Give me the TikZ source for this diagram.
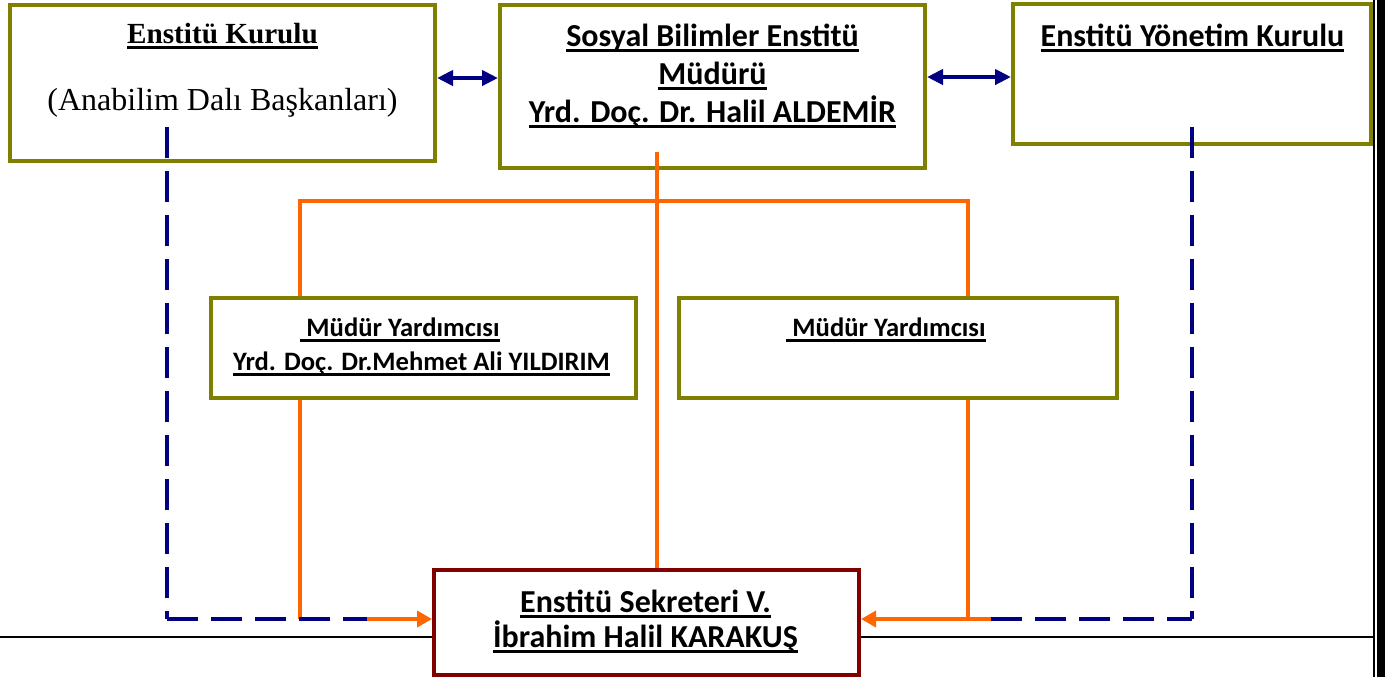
\documentclass[tikz,border=0pt]{standalone}
\usepackage{fontspec}
\setmainfont{Carlito}
\newfontfamily\serifyazi{Liberation Serif}
\usetikzlibrary{positioning}
\usetikzlibrary{arrows.meta}
\newsavebox{\altkutu}
\newcommand{\altcizgili}[1]{\sbox{\altkutu}{#1}\rlap{\rule[-3pt]{\wd\altkutu}{1.6pt}}\usebox{\altkutu}}
\definecolor{zeytin}{HTML}{808000}
\definecolor{lacivert}{HTML}{000080}
\definecolor{turuncu}{HTML}{FF6600}
\definecolor{bordo}{HTML}{800000}
\tikzstyle{birim} = [rectangle, draw=zeytin, line width=2pt, inner sep=0pt]
\tikzstyle{sekreterlik} = [rectangle, draw=bordo, line width=2pt, fill=white, inner sep=0pt]
\tikzstyle{yazi} = [anchor=base, align=center, inner sep=0pt]
\tikzstyle{cift} = [draw=lacivert, line width=2pt,
    {Triangle[length=8pt,width=7.5pt]}-{Triangle[length=8pt,width=7.5pt]}]
\tikzstyle{hat} = [draw=turuncu, line width=1.8pt]
\tikzstyle{hatok} = [hat, -{Triangle[length=7.5pt,width=8pt]}]
\tikzstyle{kesik} = [draw=lacivert, line width=1.7pt, dash pattern=on 15.5pt off 6.5pt]
\tikzstyle{cizgi} = [draw=black, line width=1pt]

\begin{document}
\begin{tikzpicture}[x=0.5pt, y=-0.5pt]
    \useasboundingbox (0,0) rectangle (1385,677);
    \node [birim, minimum width=212.5pt, minimum height=78pt] (kurul) at (222.5,83) {};
    \node [birim, minimum width=212.5pt, minimum height=81.5pt] (mudur) at (712.5,86.5) {};
    \node [birim, minimum width=179pt, minimum height=70pt] (yonetim) at (1192,74) {};
    \node [birim, minimum width=212.5pt, minimum height=50pt] (yardA) at (423.5,348) {};
    \node [birim, minimum width=219pt, minimum height=50pt] (yardB) at (898,348) {};
    \node [sekreterlik, minimum width=212.5pt, minimum height=52.5pt] (sekreter) at (646.5,622.5) {};
    % texts (base = last line)
    \node [yazi, font=\serifyazi\bfseries\fontsize{14.6}{17}\selectfont] (kurulBaslik) at (222.5,43) {\altcizgili{Enstitü Kurulu}};
    \node [yazi, font=\serifyazi\fontsize{16}{19}\selectfont] (kurulAciklama) at (222.5,110) {(Anabilim Dalı Başkanları)};
    \node [yazi, font=\bfseries\fontsize{16}{19}\selectfont] (mudurYazi) at (712.5,122)
        {\altcizgili{Sosyal Bilimler Enstitü}\\\altcizgili{Müdürü}\\\altcizgili{Yrd. Doç. Dr. Halil ALDEMİR}};
    \node [yazi, font=\bfseries\fontsize{16}{19}\selectfont] (yonetimYazi) at (1192.5,46) {\altcizgili{Enstitü Yönetim Kurulu}};
    \node [yazi, font=\bfseries\fontsize{13.3}{17}\selectfont] (yardAYazi) at (421.5,370)
        {\altcizgili{\ Müdür Yardımcısı}\hspace*{21.5pt}\\\altcizgili{Yrd. Doç. Dr.Mehmet Ali YILDIRIM}};
    \node [yazi, font=\bfseries\fontsize{13.3}{17}\selectfont] (yardBYazi) at (886,336) {\altcizgili{\ Müdür Yardımcısı}};
    \node [yazi, font=\bfseries\fontsize{16}{17.5}\selectfont] (sekreterYazi) at (645.5,647)
        {\altcizgili{Enstitü Sekreteri V.}\\\altcizgili{İbrahim Halil KARAKUŞ}};
    % edges
    \coordinate (ortaUst) at (657,152);
    \coordinate (solKol) at (300,201);
    \coordinate (sagKol) at (968,201);
    \coordinate (solAlt) at (300,619);
    \coordinate (sagAlt) at (968,619);
    \coordinate (solKesik) at (167,127);
    \coordinate (solKose) at (167,619);
    \coordinate (solUc) at (367,619);
    \coordinate (sagKesik) at (1192,127);
    \coordinate (sagKose) at (1192,619);
    \coordinate (sagUc) at (991,619);
    \coordinate (cizgiSol) at (0,637);
    \coordinate (cizgiSag) at (1373,637);
    \path [cift] ([yshift=2.5pt]kurul.east) -- ([yshift=4.25pt]mudur.west);
    \path [cift] ([yshift=4.75pt]mudur.east) -- ([yshift=-1.5pt]yonetim.west);
    \path [hat] (ortaUst) -- (ortaUst |- sekreter.north);
    \path [hat] (solKol |- yardA.north) -- (solKol) -- (sagKol) -- (sagKol |- yardB.north);
    \path [hat] (solKol |- yardA.south) -- (solAlt);
    \path [hat] (sagKol |- yardB.south) -- (sagAlt);
    \path [hatok] (solUc) -- (solUc -| sekreter.west);
    \path [hatok] (sagUc) -- (sagUc -| sekreter.east);
    \path [kesik] (solKesik) -- (solKose);
    \path [kesik] (solKose) -- (solUc);
    \path [kesik] (sagKesik) -- (sagKose);
    \path [kesik] (sagUc) -- (sagKose);
    \path [cizgi] (cizgiSol) -- (cizgiSol -| sekreter.west);
    \path [cizgi] (sekreter.east |- cizgiSag) -- (cizgiSag);
    % page edge
    \fill (1372.5,0) rectangle (1374.5,677);
    \fill (1376.5,0) rectangle (1385,677);
\end{tikzpicture}
\end{document}
